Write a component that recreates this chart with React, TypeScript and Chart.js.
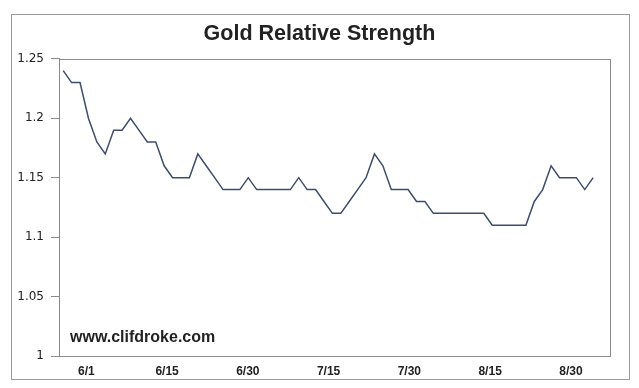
import React, { useEffect, useRef } from "react";
import { Chart, registerables } from "chart.js";

Chart.register(...registerables);

const TITLE = "Gold Relative Strength";
const WATERMARK = "www.clifdroke.com";

// One value per trading session
const strengthValues = [
  1.24, 1.23, 1.23, 1.2, 1.18, 1.17, 1.19, 1.19, 1.2, 1.19,
  1.18, 1.18, 1.16, 1.15, 1.15, 1.15, 1.17, 1.16, 1.15, 1.14,
  1.14, 1.14, 1.15, 1.14, 1.14, 1.14, 1.14, 1.14, 1.15, 1.14,
  1.14, 1.13, 1.12, 1.12, 1.13, 1.14, 1.15, 1.17, 1.16, 1.14,
  1.14, 1.14, 1.13, 1.13, 1.12, 1.12, 1.12, 1.12, 1.12, 1.12,
  1.12, 1.11, 1.11, 1.11, 1.11, 1.11, 1.13, 1.14, 1.16, 1.15,
  1.15, 1.15, 1.14, 1.15,
];

const xTickLabels = ["6/1", "6/15", "6/30", "7/15", "7/30", "8/15", "8/30"];
const xTickPositions = [2.75, 12.35, 21.95, 31.55, 41.15, 50.75, 60.35];
const xRange = [-0.5, 65];
const yRange = [1, 1.25];
const yStep = 0.05;

const framePlugin = {
  id: "frame",
  beforeDraw(chart: any) {
    const { ctx, width, height } = chart;
    ctx.save();
    ctx.fillStyle = "#ffffff";
    ctx.fillRect(0, 0, width, height);
    ctx.restore();
  },
  afterDraw(chart: any) {
    const { ctx, chartArea } = chart;
    const { left, top, right, bottom } = chartArea;
    ctx.save();
    ctx.strokeStyle = "#8a8a8a";
    ctx.lineWidth = 1;
    ctx.strokeRect(Math.round(left) + 0.5, Math.round(top) + 0.5, Math.round(right - left), Math.round(bottom - top));
    ctx.strokeStyle = "#9a9a9a";
    ctx.strokeRect(11.5, 14.5, 618, 365);
    ctx.font = 'bold 16px "Liberation Sans", Arial, sans-serif';
    ctx.fillStyle = "#222222";
    ctx.textBaseline = "alphabetic";
    ctx.textAlign = "left";
    ctx.fillText(WATERMARK, left + 11, bottom - 14.5);
    ctx.restore();
  },
};

export default function App() {
  const canvasRef = useRef<HTMLCanvasElement | null>(null);

  useEffect(() => {
    document.body.style.margin = "0";
    const canvas = canvasRef.current;
    if (!canvas) return;
    const chart = new Chart(canvas, {
      type: "line",
      data: {
        datasets: [
          {
            data: strengthValues.map((v, i) => ({ x: i, y: v })),
            borderColor: "#3e4d6c",
            borderWidth: 1.5,
            pointRadius: 0,
            tension: 0,
            fill: false,
            yAxisID: "y",
          },
        ],
      },
      options: {
        animation: false,
        responsive: false,
        devicePixelRatio: 1,
        layout: { padding: { left: 0, right: 0, top: 0, bottom: 0 } },
        plugins: {
          legend: { display: false },
          tooltip: { enabled: false },
          title: {
            display: true,
            text: TITLE,
            color: "#222222",
            font: { family: '"Liberation Sans", Arial, sans-serif', size: 21.5, weight: "bold", lineHeight: 1.2 },
            padding: { top: 21, bottom: 12 },
          },
        },
        scales: {
          x: {
            type: "linear",
            min: xRange[0],
            max: xRange[1],
            bounds: "data",
            afterBuildTicks: (scale: any) => {
              scale.ticks = xTickPositions.map((v) => ({ value: v }));
            },
            afterFit: (scale: any) => {
              scale.height = 32;
            },
            ticks: {
              autoSkip: false,
              maxRotation: 0,
              padding: 8,
              color: "#222222",
              font: { family: '"Liberation Sans", Arial, sans-serif', size: 12, weight: "bold" },
              callback: (_v: any, idx: number) => xTickLabels[idx],
            },
            grid: { display: true, drawOnChartArea: false, drawTicks: false },
            border: { display: true, color: "#8a8a8a" },
          },
          y: {
            type: "linear",
            position: "left",
            min: yRange[0],
            max: yRange[1],
            afterFit: (scale: any) => {
              scale.width = 59;
            },
            ticks: {
              stepSize: yStep,
              padding: 7,
              color: "#222222",
              font: { family: '"DejaVu Sans", sans-serif', size: 12 },
              callback: (v: any) => String(Number(Number(v).toFixed(2))),
            },
            grid: { display: true, drawOnChartArea: false, drawTicks: true, tickLength: 8, color: "#8a8a8a" },
            border: { display: true, color: "#8a8a8a" },
          },
          yRightSpace: {
            type: "linear",
            position: "right",
            display: true,
            min: yRange[0],
            max: yRange[1],
            afterFit: (scale: any) => {
              scale.width = 29;
            },
            ticks: { display: false },
            grid: { display: false, drawTicks: false },
            border: { display: false },
          },
        },
      },
      plugins: [framePlugin],
    });
    return () => chart.destroy();
  }, []);

  return (
    <div style={{ width: 639, height: 388, position: "relative", background: "#fff" }}>
      <canvas ref={canvasRef} width={639} height={388} style={{ width: 639, height: 388, display: "block" }} />
    </div>
  );
}
